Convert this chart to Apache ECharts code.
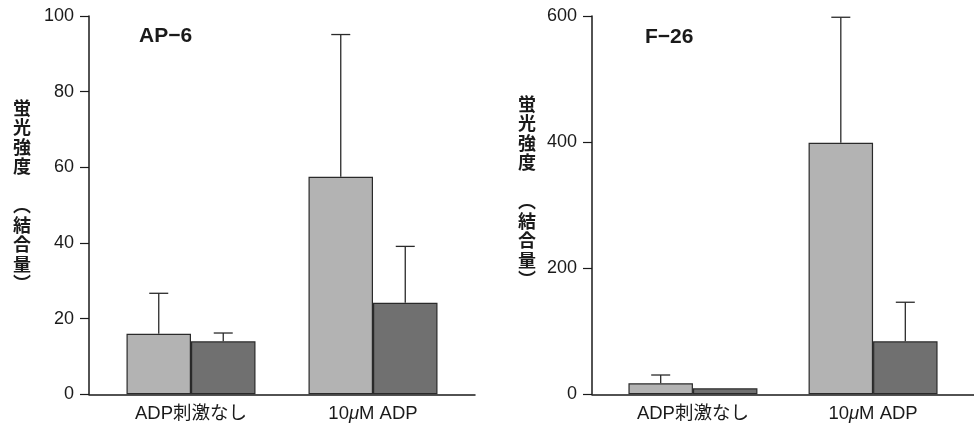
<!DOCTYPE html>
<html>
<head>
<meta charset="utf-8">
<script src="https://cdn.jsdelivr.net/npm/echarts@6/dist/echarts.min.js"></script>
<style>
html,body{margin:0;padding:0;background:#fff;}
#chart{width:974px;height:428px;}
</style>
</head>
<body>
<div id="chart"></div>
<script>
// ---- data ----
const categories = ['ADP刺激なし', '10μM ADP'];
const panelTitles = ['AP−6', 'F−26'];
const yAxisTitle = '蛍光強度（結合量）';

// AP-6 panel
const ap6Light = [16.0, 57.5];
const ap6LightErrTop = [26.7, 95.1];
const ap6Dark = [14.0, 24.2];
const ap6DarkErrTop = [16.2, 39.1];

// F-26 panel
const f26Light = [17.4, 399];
const f26LightErrTop = [30.6, 598];
const f26Dark = [9.5, 84];
const f26DarkErrTop = [null, 146];

const ap6Ticks = { min: 0, max: 100, interval: 20 };
const f26Ticks = { min: 0, max: 600, interval: 200 };

// ---- style ----
const LIGHT = '#b3b3b3';
const DARK = '#707070';
const INK = '#1a1a1a';
const BAR_W = 64.5;
const FONT = 'Liberation Sans, Arial, Helvetica, Noto Sans CJK JP, sans-serif';
const CJK = 'Noto Sans CJK JP, sans-serif';

const chart = echarts.init(document.getElementById('chart'), null, { renderer: 'canvas' });

function pairs(vals) { return vals.map((v, i) => [i, v]); }
function errPairs(vals, tops) { return vals.map((v, i) => [i, v, tops[i] == null ? v : tops[i]]); }

function xAxisFor(gi) {
  return {
    type: 'value', gridIndex: gi, min: -0.5604, max: 1.5604,
    axisLine: { show: true, onZero: false, lineStyle: { color: INK, width: 1.5 } },
    axisTick: { show: false },
    splitLine: { show: false },
    axisLabel: {
      customValues: [0, 1],
      margin: 10,
      color: INK,
      fontSize: 18.5,
      fontFamily: FONT,
      formatter: v => {
        const s = categories[Math.round(v)] || '';
        return s.replace('μ', '{m|μ}');
      },
      rich: { m: { fontStyle: 'italic', fontSize: 18.5, fontFamily: FONT, color: INK } }
    }
  };
}
function yAxisFor(gi, t) {
  return {
    type: 'value', gridIndex: gi, min: t.min, max: t.max, interval: t.interval,
    axisLine: { show: true, onZero: false, lineStyle: { color: INK, width: 1.5 } },
    axisTick: { show: true, length: 9, inside: false, lineStyle: { color: INK, width: 1.2 } },
    splitLine: { show: false },
    axisLabel: { margin: 15, color: INK, fontSize: 18, fontFamily: FONT }
  };
}
function barSeries(gi, vals, color) {
  return {
    type: 'bar', xAxisIndex: gi, yAxisIndex: gi,
    data: pairs(vals), barWidth: BAR_W, barGap: '0%',
    itemStyle: { color: color, borderColor: '#2a2a2a', borderWidth: 1.2 },
    z: 2
  };
}
function errSeries(gi, vals, tops, side) {
  return {
    type: 'custom', xAxisIndex: gi, yAxisIndex: gi,
    data: errPairs(vals, tops),
    z: 3,
    renderItem: (params, api) => {
      const x = api.value(0), v = api.value(1), t = api.value(2);
      if (t <= v) return null;
      const p0 = api.coord([x, v]);
      const p1 = api.coord([x, t]);
      const cx = p0[0] + side * BAR_W / 2;
      const cap = 9.5;
      const st = { stroke: '#2a2a2a', lineWidth: 1.3 };
      return {
        type: 'group',
        children: [
          { type: 'line', shape: { x1: cx, y1: p0[1], x2: cx, y2: p1[1] }, style: st },
          { type: 'line', shape: { x1: cx - cap, y1: p1[1], x2: cx + cap, y2: p1[1] }, style: st }
        ]
      };
    }
  };
}

const vText = yAxisTitle.replace('（', '\n︵').replace('）', '︶').split('').join('\n').replace(/\n\n\n/g, '\n\n');

const option = {
  backgroundColor: '#fff',
  animation: false,
  title: [
    { text: panelTitles[0], left: 139, top: 26, padding: 0, textStyle: { fontSize: 21, fontWeight: 'bold', color: INK, fontFamily: FONT } },
    { text: panelTitles[1], left: 645, top: 27, padding: 0, textStyle: { fontSize: 21, fontWeight: 'bold', color: INK, fontFamily: FONT } }
  ],
  grid: [
    { left: 89, top: 16, width: 386, height: 378.3 },
    { left: 592, top: 16, width: 386, height: 378.3 }
  ],
  xAxis: [xAxisFor(0), xAxisFor(1)],
  yAxis: [yAxisFor(0, ap6Ticks), yAxisFor(1, f26Ticks)],
  graphic: [
    { type: 'text', left: 13, top: 98, style: { text: vText, lineHeight: 19.5, fill: INK, font: 'bold 18px ' + CJK, textAlign: 'center' } },
    { type: 'text', left: 518, top: 94, style: { text: vText, lineHeight: 19.5, fill: INK, font: 'bold 18px ' + CJK, textAlign: 'center' } }
  ],
  series: [
    barSeries(0, ap6Light, LIGHT),
    barSeries(0, ap6Dark, DARK),
    errSeries(0, ap6Light, ap6LightErrTop, -1),
    errSeries(0, ap6Dark, ap6DarkErrTop, 1),
    barSeries(1, f26Light, LIGHT),
    barSeries(1, f26Dark, DARK),
    errSeries(1, f26Light, f26LightErrTop, -1),
    errSeries(1, f26Dark, f26DarkErrTop, 1)
  ]
};
chart.setOption(option);
</script>
</body>
</html>
